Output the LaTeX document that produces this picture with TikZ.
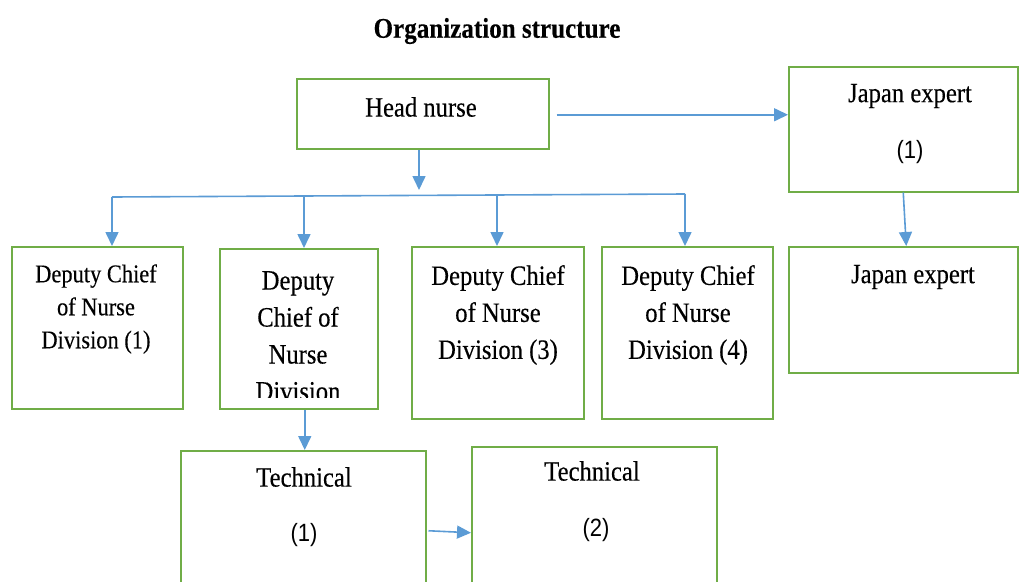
\documentclass[tikz,border=0pt]{standalone}
\usepackage{fontspec}
\setmainfont{Liberation Serif}[FakeStretch=0.88,FakeBold=0.3]
\newfontfamily\sansf{Liberation Sans}[FakeStretch=0.88]
\usetikzlibrary{arrows.meta}
\definecolor{boxgreen}{HTML}{70AD47}
\definecolor{arrblue}{HTML}{5B9BD5}
\tikzset{
 box/.style={draw=boxgreen, line width=1.5pt, rectangle, inner sep=0pt, anchor=north west},
 lbl/.style={align=center, inner sep=0pt, font=\fontsize{28}{37}\selectfont},
 lblsmall/.style={align=center, inner sep=0pt, font=\fontsize{25.5}{33}\selectfont},
 num/.style={inner sep=0pt, font=\sansf\fontsize{25}{28}\selectfont},
 conn/.style={draw=arrblue, line width=1.6pt},
 arr/.style={conn, -{Triangle[width=13pt,length=14pt]}},
}
\begin{document}
\begin{tikzpicture}[x=1pt,y=-1pt]
\useasboundingbox (0,0) rectangle (1019,581);
\clip (0,0) rectangle (1019,581);
% title
\node[inner sep=0pt, font=\fontsize{28.5}{32}\bfseries\selectfont] (title) at (497,31) {Organization structure};
% boxes
\node[box, minimum width=252pt, minimum height=70pt] (head) at (296,78) {};
\node[box, minimum width=229pt, minimum height=125pt] (jp1) at (788,66) {};
\node[box, minimum width=229pt, minimum height=126pt] (jp2) at (788,246) {};
\node[box, minimum width=171pt, minimum height=162pt] (d1) at (11,246) {};
\node[box, minimum width=158pt, minimum height=160pt] (d2) at (219,248) {};
\node[box, minimum width=172pt, minimum height=172pt] (d3) at (411,246) {};
\node[box, minimum width=171pt, minimum height=172pt] (d4) at (601,246) {};
\node[box, minimum width=245pt, minimum height=160pt] (t1) at (180,450) {};
\node[box, minimum width=245pt, minimum height=164pt] (t2) at (471,446) {};
% texts
\node[lbl] (thead) at (421,107) {Head nurse};
\node[lbl] (tjp1) at (910,96) {Japan expert};
\node[num] (njp1) at (910,152) {(1)};
\node[lbl] (tjp2) at (913,277) {Japan expert};
\node[lblsmall] (td1) at (96,309) {Deputy Chief\\of Nurse\\Division (1)};
\begin{scope}
\clip (219,248) rectangle (377,397.5);
\node[lbl] (td2) at (298,336) {Deputy\\Chief of\\Nurse\\Division};
\end{scope}
\node[lbl] (td3) at (498,315) {Deputy Chief\\of Nurse\\Division (3)};
\node[lbl] (td4) at (688,315) {Deputy Chief\\of Nurse\\Division (4)};
\node[lbl] (tt1) at (304,477) {Technical};
\node[num] (nt1) at (304,535) {(1)};
\node[lbl] (tt2) at (592,471) {Technical};
\node[num] (nt2) at (596,530) {(2)};
% connectors
\coordinate (split) at (419,190);
\coordinate (busL) at (112,197);
\coordinate (busR) at (685,194);
\coordinate (bus2) at (304,196);
\coordinate (bus3) at (497,195);
\coordinate (hr) at ([xshift=7pt,yshift=-1pt]head.east);
\draw[arr] (head.south -| split) -- (split);
\draw[conn] (busL) -- (busR);
\draw[arr] (busL) -- (busL |- d1.north);
\draw[arr] (bus2) -- (bus2 |- d2.north);
\draw[arr] (bus3) -- (bus3 |- d3.north);
\draw[arr] (busR) -- (busR |- d4.north);
\draw[arr] (hr) -- (hr -| jp1.west);
\draw[arr] (jp1.south) -- ([xshift=3pt]jp2.north);
\draw[arr] ([xshift=6pt]d2.south) -- ([xshift=6pt]d2.south |- t1.north);
\draw[arr] ([xshift=2pt]t1.east) -- ([yshift=-4pt]t2.west);
\end{tikzpicture}
\end{document}
